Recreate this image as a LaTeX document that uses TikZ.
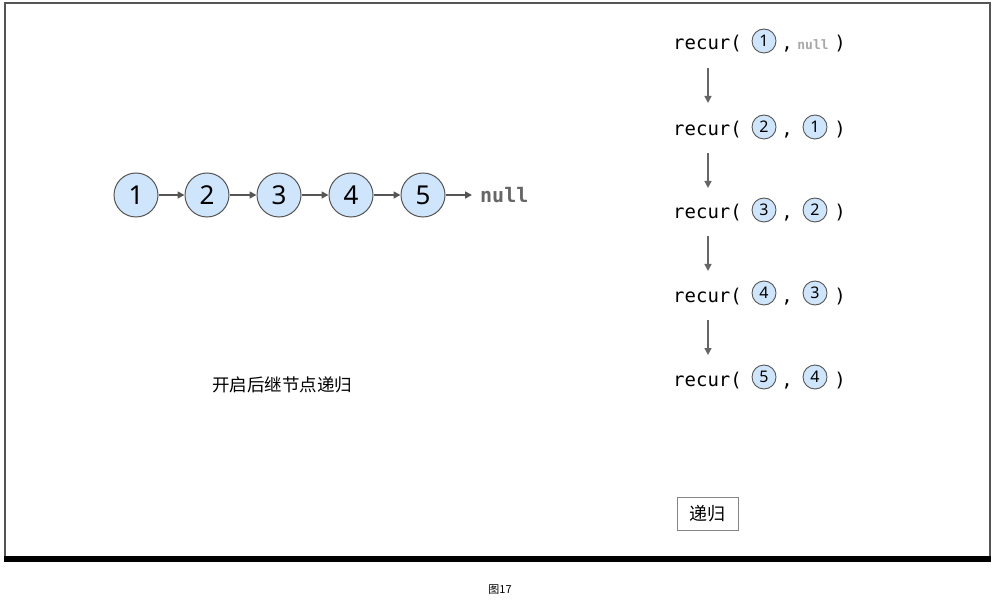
\documentclass[tikz,border=0pt]{standalone}
\usepackage{fontspec}
\setmainfont{Noto Sans}
\setmonofont{DejaVu Sans Mono}
\newfontfamily\cjk{Noto Sans CJK SC}
\usetikzlibrary{arrows.meta}
\definecolor{nodeblue}{HTML}{CFE5FB}
\definecolor{edgegray}{HTML}{555555}
\definecolor{nullgray}{HTML}{666666}
\definecolor{lightnull}{HTML}{A8A8A8}
\tikzset{
  bignode/.style={circle, draw=edgegray, line width=1pt, fill=nodeblue, minimum size=44pt, inner sep=0pt, font=\fontsize{26}{26}\selectfont},
  smallnode/.style={circle, draw=edgegray, line width=0.9pt, fill=nodeblue, minimum size=24pt, inner sep=0pt, font=\fontsize{16}{16}\selectfont},
  listarrow/.style={draw=edgegray, line width=1.6pt, -{Triangle[length=7pt,width=7pt]}},
  downarrow/.style={draw=nullgray, line width=1.4pt, -{Triangle[length=7pt,width=7pt]}},
  codetext/.style={inner sep=0pt, font=\ttfamily\fontsize{19}{19}\selectfont, text=black},
}
\begin{document}
\begin{tikzpicture}[x=1pt,y=-1pt]
\useasboundingbox (0,0) rectangle (995,601);
\fill[white] (0,0) rectangle (995,601);
% frame
\draw[edgegray, line width=2pt] (5,3.5) rectangle (989.5,557);
\fill[black] (4,556) rectangle (991,561.5);

% linked list
\foreach \i/\x in {1/136,2/207,3/279,4/351,5/423}{
  \node[bignode] (n\i) at (\x,195) {\i};
}
\node[inner sep=0pt, anchor=west, font=\ttfamily\bfseries\fontsize{20}{20}\selectfont, text=nullgray] (nul) at (480,195) {null};
\foreach \a/\b in {1/2,2/3,3/4,4/5}{
  \draw[listarrow] (n\a) -- (n\b);
}
\draw[listarrow, shorten >=8pt] (n5) -- (nul.west);

\node[inner sep=0pt, font=\cjk\fontsize{17.5}{17.5}\selectfont] (lbl) at (282,385) {开启后继节点递归};

% recursion column
\foreach \r/\y/\a/\b in {1/50/1/0,2/136/2/1,3/219/3/2,4/302/4/3,5/386/5/4}{
  \node[codetext, anchor=base west] (rc\r) at (673,\y) {recur(};
  \node[smallnode] (ca\r) at (764,\y-9) {\a};
  \node[codetext, anchor=base] (cm\r) at (787,\y) {,};
  \node[codetext, anchor=base] (cp\r) at (840,\y) {)};
}
\node[inner sep=0pt, anchor=base, font=\ttfamily\bfseries\fontsize{13}{13}\selectfont, text=lightnull] (cb1) at (813,50) {null};
\foreach \r/\y/\b in {2/136/1,3/219/2,4/302/3,5/386/4}{
  \node[smallnode] (cb\r) at (815,\y-9) {\b};
}
\foreach \r/\ys/\ye in {1/68/103,2/153/188,3/236/271,4/320/355}{
  \coordinate (ds\r) at (708,\ys);
  \coordinate (de\r) at (708,\ye);
  \draw[downarrow] (ds\r) -- (de\r);
}

% button
\node[draw=nullgray!80, line width=0.8pt, minimum width=61pt, minimum height=33pt, inner sep=0pt, font=\cjk\fontsize{18}{18}\selectfont] (btn) at (707.5,513.5) {递归};

% caption
\node[inner sep=0pt, font=\cjk\fontsize{11}{11}\selectfont] (cap) at (500,590) {图17};
\end{tikzpicture}
\end{document}
